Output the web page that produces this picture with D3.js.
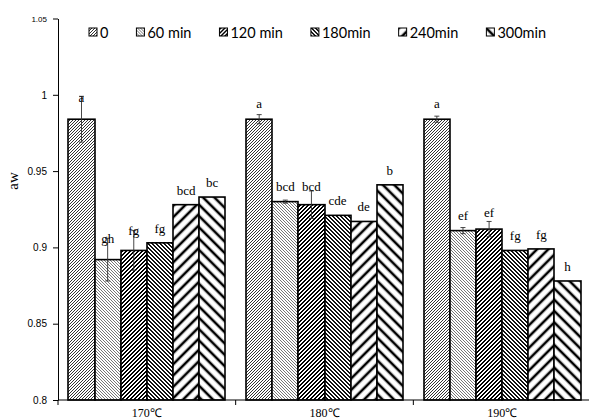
<!DOCTYPE html>
<html><head><meta charset="utf-8">
<script src="https://cdn.jsdelivr.net/npm/d3@7"></script>
<style>body{margin:0;background:#fff}</style>
</head><body>
<svg id="c" width="589" height="419"></svg>
<script>
const groups = ["170℃", "180℃", "190℃"];
const series = ["0", "60 min", "120 min", "180min", "240min", "300min"];
const values = [
  [0.984, 0.892, 0.898, 0.903, 0.928, 0.933],
  [0.984, 0.930, 0.928, 0.921, 0.917, 0.941],
  [0.984, 0.911, 0.912, 0.898, 0.899, 0.878]
];
const errors = [
  [0.015, 0.014, 0.013, 0.000, 0.000, 0.000],
  [0.003, 0.001, 0.009, 0.000, 0.000, 0.000],
  [0.002, 0.002, 0.005, 0.000, 0.000, 0.000]
];
const letters = [
  ["a", "gh", "fg", "fg", "bcd", "bc"],
  ["a", "bcd", "bcd", "cde", "de", "b"],
  ["a", "ef", "ef", "fg", "fg", "h"]
];
const yTicks = [0.8, 0.85, 0.9, 0.95, 1, 1.05];

const svg = d3.select("#c");
const defs = svg.append("defs");
// fine pixel-aligned hatch patterns: [id, cell, thickness, direction, color]
const finePats = [
  ["p0", 3, 1, "up", "#333"],
  ["p1", 3, 1, "down", "#777"],
  ["p2", 4, 2, "up", "#000"],
  ["p3", 4, 2, "down", "#111"]
];
finePats.forEach(([id, n, th, dir, col]) => {
  const reps = 4, W = n * reps;
  const p = defs.append("pattern").attr("id", id).attr("patternUnits", "userSpaceOnUse")
    .attr("width", W).attr("height", W);
  p.append("rect").attr("width", W).attr("height", W).attr("fill", "#fff");
  for (let r = 0; r < W; r++) {
    for (let c = 0; c < W; c++) {
      const k = dir === "up" ? (r + c) % n : ((c - r) % n + n) % n;
      if (k < th) p.append("rect").attr("x", c).attr("y", r).attr("width", 1).attr("height", 1)
        .attr("fill", col).attr("shape-rendering", "crispEdges");
    }
  }
});
// wide hatch patterns: [id, angle, spacing, strokeWidth]
[["p4", 45, 8, 2.6], ["p5", -45, 8, 2.6]].forEach(([id, ang, sp, sw]) => {
  const p = defs.append("pattern").attr("id", id).attr("patternUnits", "userSpaceOnUse")
    .attr("width", sp).attr("height", sp).attr("patternTransform", `rotate(${ang})`);
  p.append("rect").attr("width", sp).attr("height", sp).attr("fill", "#fff");
  p.append("line").attr("x1", sp / 2).attr("x2", sp / 2).attr("y1", 0).attr("y2", sp)
    .attr("stroke", "#000").attr("stroke-width", sw);
});

const mLeft = 58, mRight = 591, mTop = 18.5, mBottom = 400;
const y = d3.scaleLinear().domain([0.8, 1.05]).range([mBottom, mTop]);
const x0 = d3.scaleBand().domain(groups).range([mLeft, mRight]);
const x1 = d3.scaleBand().domain(series).range([0, x0.bandwidth()]).paddingOuter(0.4);

// y axis
const ya = svg.append("g").attr("transform", `translate(${mLeft},0)`)
  .call(d3.axisLeft(y).tickValues(yTicks).tickSize(5).tickSizeOuter(0).tickFormat(d => String(+d.toFixed(2))));
ya.select(".domain").attr("stroke", "#000");
ya.selectAll(".tick line").attr("stroke", "#000");
ya.selectAll(".tick text").attr("font-family", "'Liberation Sans', Arial, sans-serif")
  .attr("font-size", d => d === 1.05 ? 8 : 10).attr("fill", "#000").attr("x", -11)
  .attr("dy", "0.32em");

// bars
const gG = svg.selectAll("g.grp").data(groups).join("g").attr("class", "grp");
gG.each(function (g, gi) {
  const sel = d3.select(this);
  const gx = x0(g);
  const rows = series.map((s, si) => ({ s, si, v: values[gi][si], e: errors[gi][si], l: letters[gi][si] }));
  const bx = d => Math.round(gx + x1(d.s));
  const bw = d => Math.round(gx + x1(d.s) + x1.bandwidth()) - bx(d);
  const cx = d => gx + x1(d.s) + x1.bandwidth() / 2;
  sel.selectAll("rect.bar").data(rows).join("rect").attr("class", "bar")
    .attr("x", bx).attr("width", bw)
    .attr("y", d => y(d.v)).attr("height", d => mBottom - y(d.v))
    .attr("fill", d => `url(#p${d.si})`).attr("stroke", "#000").attr("stroke-width", 1.6);
  const eb = rows.filter(d => d.e > 0);
  sel.selectAll("line.ev").data(eb).join("line").attr("class", "ev")
    .attr("x1", cx).attr("x2", cx)
    .attr("y1", d => y(d.v + d.e)).attr("y2", d => y(d.v - d.e)).attr("stroke", "#333").attr("stroke-width", 0.9);
  [1, -1].forEach(sg => {
    sel.selectAll("line.ec" + (sg > 0 ? "t" : "b")).data(eb).join("line").attr("class", "ec" + (sg > 0 ? "t" : "b"))
      .attr("x1", d => cx(d) - 2.5).attr("x2", d => cx(d) + 2.5)
      .attr("y1", d => y(d.v + sg * d.e)).attr("y2", d => y(d.v + sg * d.e)).attr("stroke", "#333").attr("stroke-width", 0.9);
  });
  sel.selectAll("text.lab").data(rows).join("text").attr("class", "lab")
    .attr("x", cx)
    .attr("y", d => y(d.v) - 10 - 0.3 * (y(d.v) - y(d.v + d.e)))
    .attr("text-anchor", "middle").attr("font-family", "'Liberation Serif', 'Times New Roman', serif")
    .attr("font-size", 13).attr("fill", "#000").text(d => d.l);
});

// x axis
svg.append("line").attr("x1", mLeft).attr("x2", mRight).attr("y1", mBottom).attr("y2", mBottom).attr("stroke", "#000");
const bounds = groups.map(g => x0(g)).concat([x0(groups[groups.length - 1]) + x0.bandwidth()]);
svg.selectAll("line.xt").data(bounds).join("line").attr("class", "xt")
  .attr("x1", d => d).attr("x2", d => d).attr("y1", mBottom).attr("y2", mBottom + 5).attr("stroke", "#000");
svg.selectAll("text.cat").data(groups).join("text").attr("class", "cat")
  .attr("x", g => x0(g) + x0.bandwidth() / 2).attr("y", 417).attr("text-anchor", "middle")
  .attr("font-family", "'Liberation Serif', 'Times New Roman', serif").attr("font-size", 12).attr("fill", "#000").text(g => g);

// y title
svg.append("text").attr("transform", "translate(18,181) rotate(-90)").attr("text-anchor", "middle")
  .attr("font-family", "'Liberation Serif', 'Times New Roman', serif").attr("font-size", 15).text("aw");

// legend
const leg = svg.append("g");
let lx = 89;
series.forEach((s, si) => {
  const it = leg.append("g").attr("transform", `translate(${lx},0)`);
  it.append("rect").attr("x", 0).attr("y", 28).attr("width", 8).attr("height", 8)
    .attr("fill", `url(#p${si})`).attr("stroke", "#000").attr("stroke-width", 1);
  const t = it.append("text").attr("x", 11).attr("y", 37.5).attr("font-family", "Lato, 'Open Sans', sans-serif")
    .attr("font-size", 14.5).attr("fill", "#000").text(s);
  lx += 11 + t.node().getComputedTextLength() + 28;
});
</script>
</body></html>
